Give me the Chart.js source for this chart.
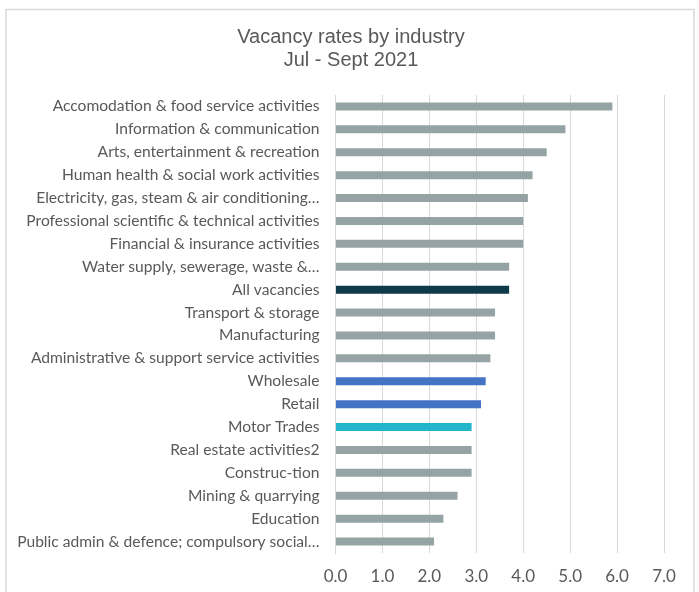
<!DOCTYPE html>
<html>
<head>
<meta charset="utf-8">
<script src="https://cdn.jsdelivr.net/npm/chart.js@4"></script>
<style>
html,body{margin:0;padding:0;background:#fff;}
#wrap{width:699px;height:592px;position:relative;}
</style>
</head>
<body>
<div id="wrap"><canvas id="c" width="699" height="592"></canvas></div>
<script>
const categories = [
  "Accomodation & food service activities",
  "Information & communication",
  "Arts, entertainment & recreation",
  "Human health & social work activities",
  "Electricity, gas, steam & air conditioning\u2026",
  "Professional scientific & technical activities",
  "Financial & insurance activities",
  "Water supply, sewerage, waste &\u2026",
  "All vacancies",
  "Transport & storage",
  "Manufacturing",
  "Administrative & support service activities",
  "Wholesale",
  "Retail",
  "Motor Trades",
  "Real estate activities2",
  "Construc-tion",
  "Mining & quarrying",
  "Education",
  "Public admin & defence; compulsory social\u2026"
];
const vacancyRates = [5.9, 4.9, 4.5, 4.2, 4.1, 4.0, 4.0, 3.7, 3.7, 3.4, 3.4, 3.3, 3.2, 3.1, 2.9, 2.9, 2.9, 2.6, 2.3, 2.1];
const barGroups = ["other","other","other","other","other","other","other","other","all","other","other","other","wr","wr","motor","other","other","other","other","other"];
const groupColors = { other: "#95a3a4", all: "#0f3a4a", wr: "#4472c4", motor: "#22b5cc" };
const titleLines = ["Vacancy rates by industry", "Jul - Sept 2021"];

const framePlugin = {
  id: 'frame',
  beforeDraw(chart) {
    const ctx = chart.ctx;
    ctx.save();
    ctx.fillStyle = '#ffffff';
    ctx.fillRect(0, 0, chart.width, chart.height);
    ctx.strokeStyle = '#d9d9d9';
    ctx.lineWidth = 1.5;
    ctx.strokeRect(6, 9.5, 688, 620);
    ctx.restore();
  }
};

new Chart(document.getElementById('c'), {
  type: 'bar',
  data: {
    labels: categories,
    datasets: [{
      data: vacancyRates,
      backgroundColor: barGroups.map(g => groupColors[g]),
      barPercentage: 0.7,
      categoryPercentage: 0.5
    }]
  },
  plugins: [framePlugin],
  options: {
    indexAxis: 'y',
    responsive: false,
    animation: false,
    layout: { padding: { left: 10, right: 7, top: 0, bottom: 0 } },
    plugins: {
      legend: { display: false },
      tooltip: { enabled: false },
      title: {
        display: true,
        text: titleLines,
        color: '#595959',
        font: { family: 'Liberation Sans', size: 20, weight: 'normal', lineHeight: 1.15 },
        padding: { top: 26, bottom: 23 }
      }
    },
    scales: {
      x: {
        min: 0, max: 7,
        ticks: {
          stepSize: 1,
          padding: 13,
          color: '#595959',
          font: { family: 'Lato', size: 17 },
          callback: v => Number(v).toFixed(1)
        },
        grid: { color: '#d9d9d9', drawTicks: false, lineWidth: 1 },
        border: { display: false },
        afterFit(scale) { scale.height = 39; }
      },
      y: {
        ticks: {
          padding: 16,
          color: '#595959',
          autoSkip: false,
          font: { family: 'Lato', size: 15.6 }
        },
        grid: { display: false, drawTicks: false },
        border: { display: true, color: '#d9d9d9' },
        afterFit(scale) { scale.width = 325.5; }
      },
      rightSpace: {
        type: 'linear',
        axis: 'y',
        position: 'right',
        display: true,
        ticks: { display: false },
        grid: { display: false, drawTicks: false },
        border: { display: false },
        afterFit(scale) { scale.width = 28; }
      }
    }
  }
});
</script>
</body>
</html>
